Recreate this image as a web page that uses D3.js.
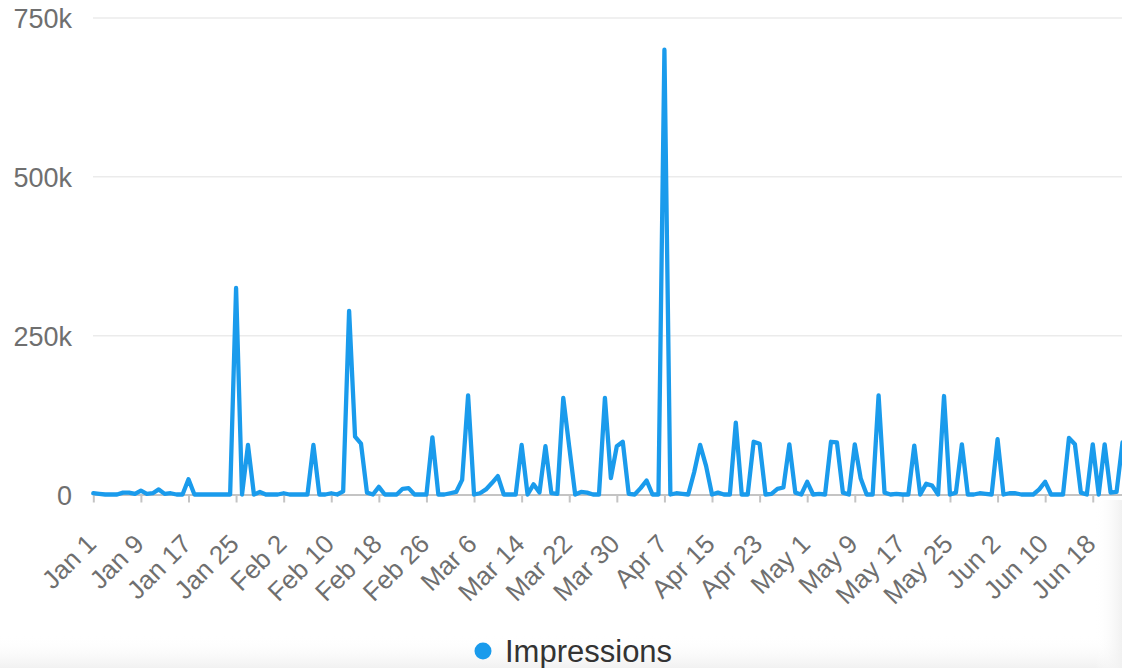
<!DOCTYPE html>
<html>
<head>
<meta charset="utf-8">
<script src="https://cdn.jsdelivr.net/npm/d3@7"></script>
<style>
  html, body { margin: 0; padding: 0; background: #fff; }
  svg { display: block; font-family: "Liberation Sans", Arial, sans-serif; }
</style>
</head>
<body>
<svg id="chart"></svg>
<script>
// daily impressions (thousands), Jan 1 .. Jun 23
var startDate = new Date(2019, 0, 1);
var impressions = [
  2, 1, 0, 0, 0, 3, 3, 1, 6, 1, 2, 8, 1, 2, 0, 0, 24, 0, 0, 0,
  0, 0, 0, 0, 325, 0, 78, 0, 4, 0, 0, 0, 2, 0, 0, 0, 0, 78, 0, 0,
  2, 0, 5, 289, 91, 80, 3, 0, 12, 0, 0, 0, 9, 10, 0, 0, 0, 90, 0, 0,
  2, 4, 23, 156, 0, 2, 8, 18, 29, 0, 0, 0, 78, 0, 16, 3, 76, 2, 1, 152,
  75, 0, 4, 3, 0, 0, 152, 26, 76, 83, 1, 0, 10, 22, 0, 0, 700, 0, 2, 1,
  0, 35, 78, 45, 0, 3, 0, 0, 113, 0, 0, 83, 80, 0, 1, 9, 11, 79, 3, 0,
  20, 0, 1, 0, 83, 82, 3, 0, 79, 25, 0, 0, 156, 3, 0, 1, 0, 0, 77, 0,
  17, 14, 0, 155, 0, 3, 79, 0, 0, 2, 1, 0, 87, 0, 2, 2, 0, 0, 0, 8,
  20, 0, 0, 0, 89, 79, 3, 0, 79, 0, 79, 3, 4, 82
];
var yTicks = [0, 250000, 500000, 750000];
var yTickLabels = ["0", "250k", "500k", "750k"];
var tickEvery = 8; // days between x labels
var seriesName = "Impressions";

var width = 1122, height = 668;
var lineColor = "#1a9bec";

var data = impressions.map(function(v, i) {
  return { date: d3.timeDay.offset(startDate, i), value: v * 1000 };
});
var lastDate = data[data.length - 1].date;

var svg = d3.select('#chart')
    .attr("width", width)
    .attr("height", height);

// faint shading at the bottom and right edges, like the screenshot
var defs = svg.append('defs');
var gb = defs.append('linearGradient').attr('id', 'fadeB')
    .attr('x1', 0).attr('y1', 0).attr('x2', 0).attr('y2', 1);
gb.append('stop').attr('offset', 0).attr('stop-color', '#fff').attr('stop-opacity', 0);
gb.append('stop').attr('offset', 1).attr('stop-color', '#f1f1f1').attr('stop-opacity', 1);
var gr = defs.append('linearGradient').attr('id', 'fadeR')
    .attr('x1', 0).attr('y1', 0).attr('x2', 1).attr('y2', 0);
gr.append('stop').attr('offset', 0).attr('stop-color', '#fff').attr('stop-opacity', 0);
gr.append('stop').attr('offset', 1).attr('stop-color', '#f1f1f1').attr('stop-opacity', 1);
svg.append('rect').attr('x', 0).attr('y', 635).attr('width', width).attr('height', 33)
    .attr('fill', 'url(#fadeB)');
svg.append('rect').attr('x', 1095).attr('y', 500).attr('width', 27).attr('height', 168)
    .attr('fill', 'url(#fadeR)');

var x = d3.scaleTime()
    .domain([startDate, lastDate])
    .range([93.3, 1122.5]);

var y = d3.scaleLinear()
    .domain([0, 750000])
    .range([494.5, 18]);

// gridlines
svg.append('g')
    .selectAll('line')
    .data(yTicks.slice(1))
    .enter()
    .append('line')
    .attr('x1', 93)
    .attr('x2', width)
    .attr('y1', function(d) { return y(d); })
    .attr('y2', function(d) { return y(d); })
    .attr('stroke', '#ebebeb')
    .attr('stroke-width', 1.5);

// y labels
svg.append('g')
    .selectAll('text')
    .data(yTicks)
    .enter()
    .append('text')
    .attr('x', 72)
    .attr('y', function(d) { return y(d) + 10; })
    .attr('text-anchor', 'end')
    .attr('fill', '#6f6f6f')
    .attr('font-size', 27)
    .text(function(d, i) { return yTickLabels[i]; });

// x axis
var xTickValues = d3.timeDay.range(startDate, lastDate, tickEvery);
var xAxis = d3.axisBottom(x)
    .tickValues(xTickValues)
    .tickSize(8)
    .tickSizeOuter(0)
    .tickFormat(d3.timeFormat("%b %-d"));

var gx = svg.append('g')
    .attr('transform', 'translate(0,' + y(0) + ')')
    .call(xAxis);
gx.select('.domain').attr('stroke', '#c4c4c4').attr('stroke-width', 2);
gx.selectAll('.tick line').attr('stroke', '#c4c4c4').attr('stroke-width', 2);
gx.selectAll('.tick text')
    .attr('font-size', 26)
    .attr('font-family', '"Liberation Sans", Arial, sans-serif')
    .attr('fill', '#6f6f6f')
    .attr('text-anchor', 'end')
    .attr('dy', 0)
    .attr('transform', 'translate(4,51) rotate(-45)')
    .attr('y', 0)
    .attr('x', 0);

// the line
var line = d3.line()
    .x(function(d) { return x(d.date); })
    .y(function(d) { return y(d.value); });

svg.append('path')
    .datum(data)
    .attr('d', line)
    .attr('fill', 'none')
    .attr('stroke', lineColor)
    .attr('stroke-width', 4.3)
    .attr('stroke-linejoin', 'round')
    .attr('stroke-linecap', 'round');

// legend
var legend = svg.append('g').attr('transform', 'translate(483,651)');
legend.append('circle')
    .attr('r', 8.5)
    .attr('fill', lineColor);
legend.append('text')
    .attr('x', 22)
    .attr('y', 11)
    .attr('font-size', 31)
    .attr('fill', '#333')
    .text(seriesName);
</script>
</body>
</html>
